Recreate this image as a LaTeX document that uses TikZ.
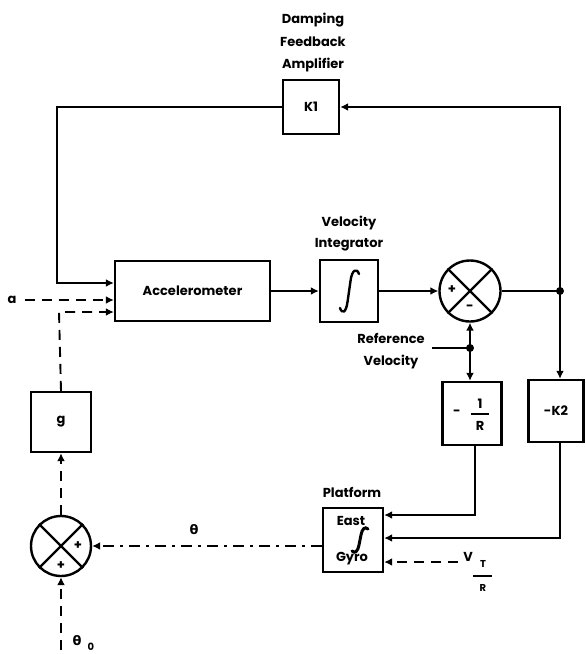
\documentclass[tikz,border=0pt]{standalone}
\usepackage{fontspec}
\setmainfont{Poppins}
\newfontfamily\dvs{DejaVu Sans}
\usetikzlibrary{arrows.meta,shapes.geometric}
\tikzset{
  blk/.style={draw, line width=2.4pt, rectangle, inner sep=0pt},
  sumc/.style={draw, line width=2.4pt, circle, inner sep=0pt, minimum size=61pt},
  conn/.style={line width=1.9pt},
  arr/.style={conn, -{Latex[length=8pt,width=8pt]}},
  darr/.style={arr, dash pattern=on 10pt off 7pt},
  ddarr/.style={arr, dash pattern=on 11pt off 6pt on 3pt off 6pt},
  lbl/.style={font=\fontsize{13}{15}\selectfont\bfseries, inner sep=0pt},
  jdot/.style={circle, fill, inner sep=0pt, minimum size=8pt},
  intsign/.style={line width=2.4pt, line cap=round}
}
\begin{document}
\begin{tikzpicture}[x=1pt,y=-1pt]
\useasboundingbox (0,0) rectangle (586,654);
% labels
\node[lbl] (lda) at (313,20) {Damping};
\node[lbl] (ldb) at (313,42) {Feedback};
\node[lbl] (ldc) at (313,65) {Amplifier};
\node[lbl] (lva) at (349,223) {Velocity};
\node[lbl] (lvb) at (349,245) {Integrator};
\node[lbl] (lra) at (391,338) {Reference};
\node[lbl] (lrb) at (391,362) {Velocity};
\node[lbl] (lpl) at (352,492) {Platform};
% blocks
\node[blk, minimum width=56pt, minimum height=54pt, lbl] (k1) at (311,107) {K1};
\node[blk, minimum width=155pt, minimum height=60pt, lbl] (acc) at (192.5,291) {Accelerometer};
\node[blk, minimum width=58pt, minimum height=62pt] (int) at (349,291) {};
\draw[intsign] (340,308) .. controls (342,314) and (346,313) .. (347.5,302) -- (350.5,281) .. controls (352,269) and (357,268) .. (359,274);
\node[sumc] (sum1) at (470,291) {};
\node[blk, minimum width=59pt, minimum height=63pt] (invR) at (472,413.5) {};
\node[lbl] (invm) at (457,413) {-};
\node[lbl] (inv1) at (480,404) {1};
\node[lbl] (invr) at (480,426) {R};
\draw[line width=1.6pt] (471,414) -- (489,414);
\node[blk, minimum width=55pt, minimum height=62pt, lbl] (k2) at (556,411) {-K2};
\node[blk, minimum width=60pt, minimum height=64pt] (gyro) at (353,540) {};
\node[lbl] (geast) at (351,521) {East};
\node[lbl] (ggyro) at (352,559) {Gyro};
\draw[intsign, line width=3pt] (352,551) .. controls (355,554) and (358,551) .. (359,545) -- (361,535) .. controls (362,529) and (365,526) .. (368,529);
\node[sumc, minimum size=60pt] (sum2) at (61,546) {};
\node[blk, minimum width=60pt, minimum height=60pt, lbl] (g) at (61,422) {g};
% circle internals
\foreach \s in {sum1,sum2}{
  \draw[line width=2.2pt] (\s.north west) -- (\s.south east);
  \draw[line width=2.2pt] (\s.north east) -- (\s.south west);
}
\node[lbl] (s1p) at (452,290) {+};
\node[lbl] (s1m) at (470,308) {-};
\node[lbl] (s2p) at (78,546) {+};
\node[lbl] (s2q) at (61,566) {+};
% free labels
\node[lbl] (la) at (12,300) {a};
\node[lbl, font=\dvs\fontsize{13}{15}\selectfont\bfseries] (lth) at (194,530) {θ};
\node[lbl, font=\dvs\fontsize{13}{15}\selectfont\bfseries] (lth0) at (77,641) {θ};
\node[lbl, font=\fontsize{10}{12}\selectfont\bfseries] (lth0s) at (91,647) {0};
\node[lbl] (lv) at (468,557) {V};
\node[lbl, font=\fontsize{10}{12}\selectfont\bfseries] (lvt) at (483,564) {T};
\node[lbl, font=\fontsize{10}{12}\selectfont\bfseries] (lvr) at (483,588) {R};
\draw[line width=1.4pt] (473,576) -- (492,576);
% coordinates
\coordinate (jR) at (560,291);
\coordinate (c1) at (57,283);
\coordinate (c2) at (59,312);
\coordinate (c3) at (560,538);
\coordinate (c4) at (475,515);
\coordinate (c5) at (458,562);
\coordinate (rv0) at (432,348);
\coordinate (jV) at (470,348);
\coordinate (c7) at (61,650);
% connectors
\draw[arr] (jR) |- (k1.east);
\draw[arr] (k1.west) -| (c1) -- (c1 -| acc.west);
\draw[darr] (la.east) ++(8,0) -- (la.east -| acc.west);
\draw[darr] (g.north) -- (c2) -- (c2 -| acc.west);
\draw[arr] (acc.east) -- (int.west);
\draw[arr] (int.east) -- (sum1.west);
\draw[conn] (sum1.east) -- (jR);
\node[jdot] (dR) at (jR) {};
\draw[arr] (jR) -- (jR |- k2.north);
\draw[arr] (k2.south -| c3) -- (c3) -- (c3 -| gyro.east);
\draw[conn] (rv0) -- (jV);
\node[jdot] (dV) at (jV) {};
\draw[arr] (jV) -- (sum1.south);
\draw[arr] (jV) -- (jV |- invR.north);
\draw[arr] (invR.south -| c4) -- (c4) -- (c4 -| gyro.east);
\draw[darr] (c5) -- (c5 -| gyro.east);
\draw[ddarr] (gyro.west |- sum2) -- (sum2.east);
\draw[darr] (sum2.north) -- (g.south);
\draw[darr] (c7) -- (sum2.south);
\end{tikzpicture}
\end{document}
